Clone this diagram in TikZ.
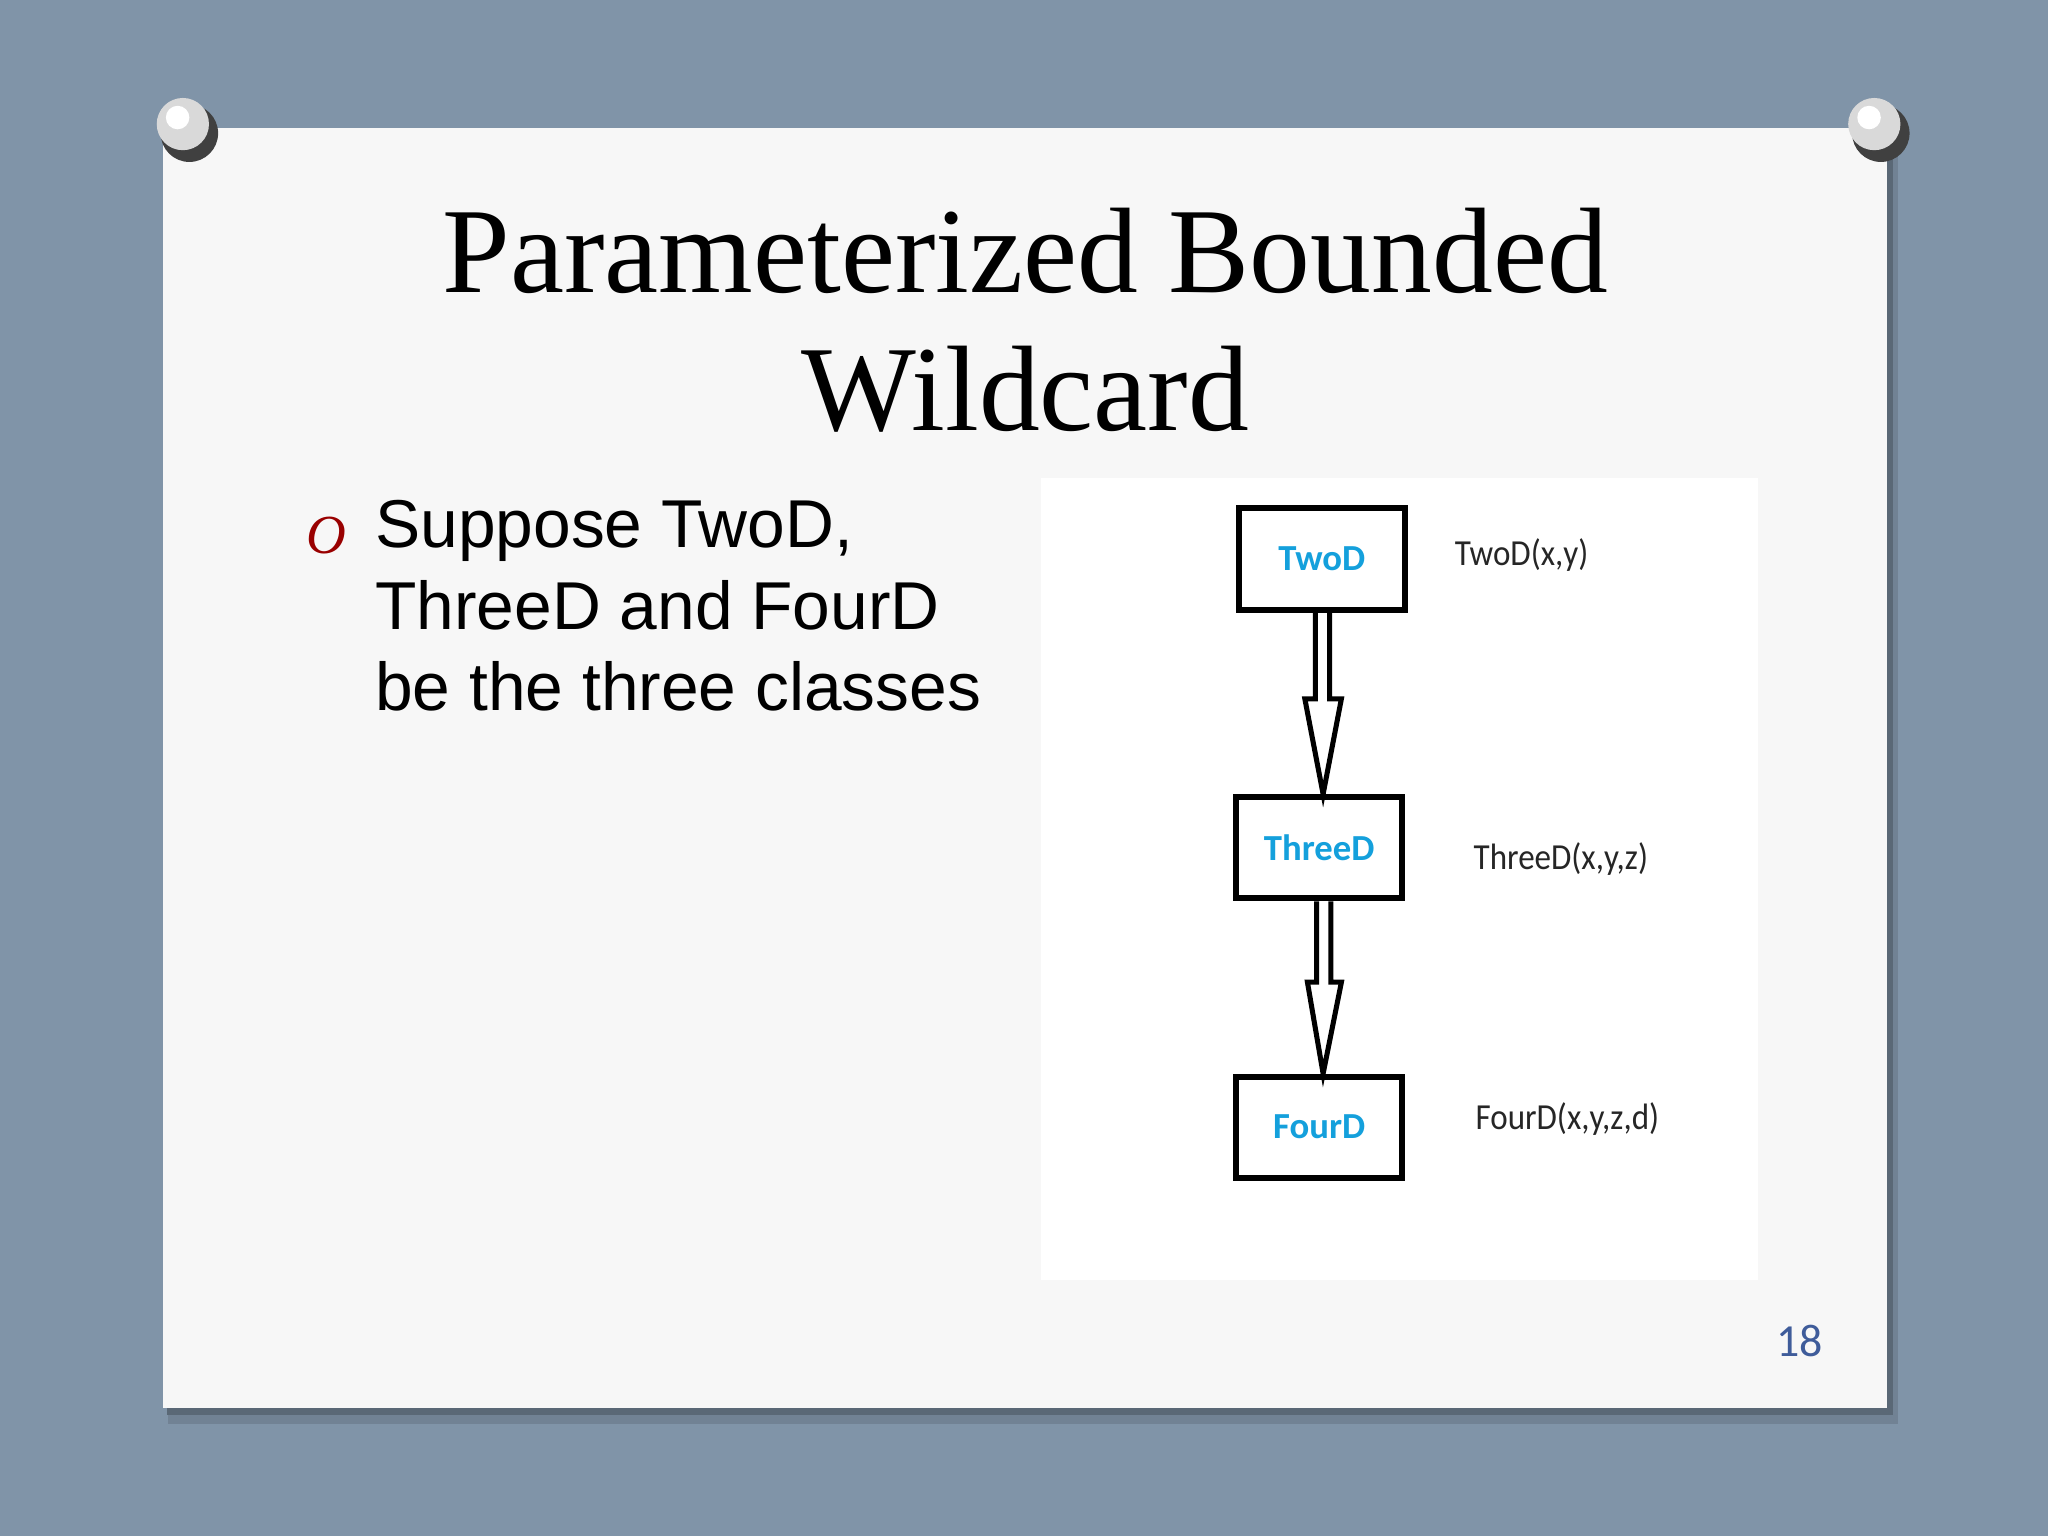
\documentclass[tikz,border=0pt]{standalone}
\usepackage{fontspec}
\setmainfont{Liberation Serif}
\newfontfamily\arialf{Liberation Sans}
\newfontfamily\carl{Carlito}
\definecolor{bgc}{HTML}{8094A8}
\definecolor{pgc}{HTML}{3F5C9A}
\definecolor{cyanlab}{HTML}{14A0DC}
\begin{document}
\begin{tikzpicture}[x=0.02cm,y=-0.02cm,
  cbox/.style={draw=black,line width=2.6pt,minimum width=2.55cm,minimum height=1.55cm,inner sep=0pt,font=\carl\bfseries\fontsize{16}{20}\selectfont,text=cyanlab},
  rlab/.style={font=\carl\fontsize{16}{20}\selectfont,text=black!85,xscale=0.9},
  arr/.style={line width=2.2pt,line join=miter}]
\useasboundingbox (0,0) rectangle (1568,1176);
\fill[bgc] (0,0) rectangle (1568,1176);
\fill[black!25!bgc] (131,104) rectangle (1451,1086);
\fill[black!12!bgc] (129,102) rectangle (1453,1090);
\fill[black!30!bgc] (128,101) rectangle (1449,1083);
\fill[gray!6] (125,98) rectangle (1445,1078);
\foreach \p in {140,1435}{
  \fill[gray!50!black] (\p+5,102) circle (22);
  \fill[gray!30] (\p,95) circle (20);
  \fill[white] (\p-4,90) circle (9);}
\node[font=\fontsize{53}{60}\selectfont,align=center] (title) at (785,245) {Parameterized Bounded\\Wildcard};
\node[font=\itshape\fontsize{24}{30}\selectfont,text=red!60!black] (bul) at (250,410) {O};
\node[anchor=north west,align=left,font=\arialf\fontsize{29.5}{35.5}\selectfont,inner sep=0pt] (txt) at (287,383) {Suppose TwoD,\\ThreeD and FourD\\be the three classes};
\fill[white] (797,366) rectangle (1346,980);
\node[cbox] (two) at (1012,428) {TwoD};
\node[cbox] (three) at (1010,649) {ThreeD};
\node[cbox] (four) at (1010,863) {FourD};
\node[rlab] (l1) at (1165,425) {TwoD(x,y)};
\node[rlab] (l2) at (1195,658) {ThreeD(x,y,z)};
\node[rlab] (l3) at (1200,857) {FourD(x,y,z,d)};
\draw[arr] (two.south -| 1007,0) -- (1007,535) -- (999,535) -- (three.north -| 1013,0) -- (1027,535) -- (1018,535) -- (two.south -| 1018,0);
\draw[arr] (three.south -| 1008,0) -- (1008,752) -- (1001,752) -- (four.north -| 1013,0) -- (1027,752) -- (1019,752) -- (three.south -| 1019,0);
\node[font=\carl\fontsize{20}{24}\selectfont,text=pgc] (pg) at (1378,1027) {18};
\end{tikzpicture}
\end{document}
